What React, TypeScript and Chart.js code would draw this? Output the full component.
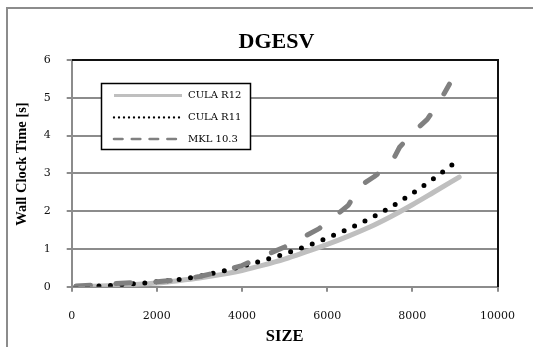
import React, { useEffect, useRef } from "react";
import { Chart, registerables } from "chart.js";

Chart.register(...registerables);

const TITLE = "DGESV";
const X_TITLE = "SIZE";
const Y_TITLE = "Wall Clock Time [s]";

const LABEL_R12 = "CULA R12";
const SIZES_R12 = [100, 500, 1000, 1500, 2000, 2500, 3000, 3500, 4000, 4500, 5000, 5500, 6000, 6500, 7000, 7500, 8000, 8500, 9100];
const VALUES_R12 = [0.0, 0.01, 0.03, 0.06, 0.1, 0.16, 0.23, 0.32, 0.43, 0.57, 0.73, 0.92, 1.12, 1.34, 1.58, 1.86, 2.17, 2.5, 2.9];

const LABEL_R11 = "CULA R11";
const SIZES_R11 = [100, 500, 1000, 1500, 2000, 2500, 3000, 3500, 4000, 4500, 5000, 5500, 6000, 6500, 7000, 7500, 8000, 8500, 9000];
const VALUES_R11 = [0.0, 0.01, 0.04, 0.08, 0.13, 0.19, 0.28, 0.4, 0.54, 0.7, 0.87, 1.07, 1.29, 1.53, 1.8, 2.11, 2.47, 2.86, 3.28];

const LABEL_MKL = "MKL 10.3";
const SIZES_MKL = [100, 500, 1000, 1500, 2000, 2500, 3000, 3500, 4000, 4500, 5000, 5400, 5800, 6200, 6500, 6750, 7100, 7500, 7700, 8050, 8350, 8650, 8870];
const VALUES_MKL = [0.02, 0.04, 0.08, 0.11, 0.13, 0.18, 0.27, 0.4, 0.56, 0.81, 1.05, 1.29, 1.53, 1.88, 2.16, 2.65, 2.91, 3.26, 3.69, 4.12, 4.43, 4.92, 5.36];

const X_MIN = 0;
const X_MAX = 10000;
const X_STEP = 2000;
const Y_MIN = 0;
const Y_MAX = 6;
const Y_STEP = 1;

const toPoints = (xs: number[], ys: number[]) => xs.map((x, i) => ({ x, y: ys[i] }));

const GRID = "#8c8c8c";
const SERIF = '"DejaVu Serif", serif';
const TIMES = '"Liberation Serif", serif';

const decorPlugin = {
  id: "decor",
  beforeDraw(chart: any) {
    const ctx = chart.ctx;
    ctx.save();
    ctx.fillStyle = "#ffffff";
    ctx.fillRect(0, 0, chart.width, chart.height);
    ctx.strokeStyle = GRID;
    ctx.lineWidth = 2;
    ctx.beginPath();
    ctx.moveTo(7, chart.height);
    ctx.lineTo(7, 8);
    ctx.lineTo(chart.width, 8);
    ctx.stroke();
    ctx.restore();
  },
  afterDraw(chart: any) {
    const ctx = chart.ctx;
    const a = chart.chartArea;
    ctx.save();
    // plot-area top and right border
    ctx.strokeStyle = "#111111";
    ctx.lineWidth = 2;
    ctx.beginPath();
    ctx.moveTo(Math.round(a.left), Math.round(a.top));
    ctx.lineTo(Math.round(a.right), Math.round(a.top));
    ctx.lineTo(Math.round(a.right), Math.round(a.bottom));
    ctx.stroke();

    // y axis title
    ctx.save();
    ctx.translate(22.7, 164);
    ctx.rotate(-Math.PI / 2);
    ctx.font = `bold 14.5px ${TIMES}`;
    ctx.fillStyle = "#000";
    ctx.textAlign = "center";
    ctx.textBaseline = "middle";
    ctx.fillText(Y_TITLE, 0, 0);
    ctx.restore();

    // legend
    const bx = 101.5, by = 83.5, bw = 149, bh = 66;
    ctx.fillStyle = "#ffffff";
    ctx.fillRect(bx, by, bw, bh);
    ctx.strokeStyle = "#000";
    ctx.lineWidth = 1.5;
    ctx.strokeRect(bx, by, bw, bh);
    const rows = [95.5, 117.5, 139];
    const styles = [
      { color: "#bfbfbf", width: 3, dash: [] as number[], cap: "butt" },
      { color: "#000000", width: 2.3, dash: [0, 5], cap: "round" },
      { color: "#808080", width: 2.6, dash: [8.5, 9.3], cap: "round" },
    ];
    chart.data.datasets.forEach((ds: any, i: number) => {
      const s = styles[i];
      const y = rows[i];
      ctx.save();
      ctx.strokeStyle = s.color;
      ctx.lineWidth = s.width;
      ctx.setLineDash(s.dash);
      ctx.lineCap = s.cap;
      ctx.beginPath();
      ctx.moveTo(114, y);
      ctx.lineTo(182, y);
      ctx.stroke();
      ctx.restore();
      ctx.fillStyle = "#000";
      ctx.font = `10px ${SERIF}`;
      ctx.textAlign = "left";
      ctx.textBaseline = "middle";
      ctx.fillText(ds.label, 188, y);
    });
    ctx.restore();
  },
};

export default function App() {
  const ref = useRef<HTMLCanvasElement | null>(null);
  useEffect(() => {
    document.body.style.margin = "0";
    const canvas = ref.current;
    if (!canvas) return;
    const chart = new Chart(canvas, {
      type: "line",
      data: {
        datasets: [
          {
            label: LABEL_R12,
            data: toPoints(SIZES_R12, VALUES_R12),
            borderColor: "#bfbfbf",
            borderWidth: 5,
            pointRadius: 0,
            cubicInterpolationMode: "monotone",
            borderCapStyle: "round",
            borderJoinStyle: "round",
            order: 3,
          },
          {
            label: LABEL_R11,
            data: toPoints(SIZES_R11, VALUES_R11),
            borderColor: "#000000",
            borderWidth: 5,
            pointRadius: 0,
            borderDash: [0, 11.5],
            cubicInterpolationMode: "monotone",
            borderCapStyle: "round",
            borderJoinStyle: "round",
            order: 2,
          },
          {
            label: LABEL_MKL,
            data: toPoints(SIZES_MKL, VALUES_MKL),
            borderColor: "#808080",
            borderWidth: 5,
            pointRadius: 0,
            borderDash: [14.5, 25.5],
            borderCapStyle: "round",
            borderJoinStyle: "round",
            tension: 0,
            order: 1,
          },
        ],
      } as any,
      options: {
        responsive: false,
        animation: false,
        layout: { padding: { left: 39.5, right: 19.5, top: 0, bottom: 0 } },
        plugins: {
          legend: { display: false },
          tooltip: { enabled: false },
          title: {
            display: true,
            text: TITLE,
            color: "#000",
            font: { family: TIMES, size: 22, weight: "bold" },
            padding: { top: 29.3, bottom: 4.3 },
          },
        },
        scales: {
          x: {
            type: "linear",
            min: X_MIN,
            max: X_MAX,
            ticks: {
              stepSize: X_STEP,
              color: "#111",
              font: { family: SERIF, size: 11 },
              padding: 18,
              maxRotation: 0,
              callback: (v: any) => String(v),
            },
            grid: { drawOnChartArea: false, color: GRID, lineWidth: 2, tickLength: 5 },
            border: { color: GRID, width: 2 },
            title: {
              display: true,
              text: X_TITLE,
              color: "#000",
              font: { family: TIMES, size: 16.5, weight: "bold" },
              padding: { top: 0, bottom: 0 },
            },
            afterFit: (s: any) => {
              s.height = 60.3;
            },
          },
          y: {
            type: "linear",
            min: Y_MIN,
            max: Y_MAX,
            ticks: {
              stepSize: Y_STEP,
              color: "#111",
              font: { family: SERIF, size: 11 },
              padding: 16,
              callback: (v: any) => String(v),
            },
            grid: { color: GRID, lineWidth: 2, tickLength: 5 },
            border: { color: GRID, width: 2 },
            afterFit: (s: any) => {
              s.width = 32.2;
            },
          },
        },
      } as any,
      plugins: [decorPlugin],
    });
    return () => chart.destroy();
  }, []);
  return <canvas ref={ref} width={533} height={347} style={{ display: "block" }} />;
}
